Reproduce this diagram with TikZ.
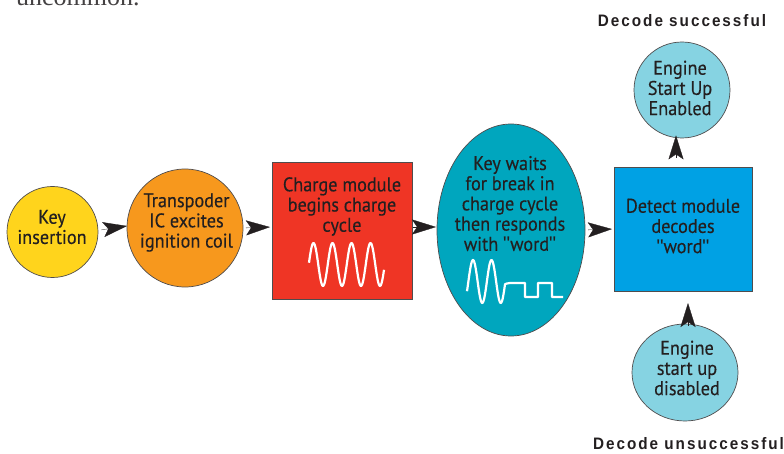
\documentclass[tikz,border=0pt]{standalone}
\usepackage{fontspec}
\setmainfont[FakeStretch=0.92,FakeBold=0.25]{PT Sans}
\newfontfamily\lblfont[LetterSpace=12,FakeStretch=0.92]{Liberation Sans}
\newfontfamily\bodyfont{Liberation Serif}
\newfontfamily\qtfont[Ligatures=NoCommon]{Liberation Sans}
\usetikzlibrary{arrows.meta,shapes.geometric}
\definecolor{ink}{HTML}{231F20}
\definecolor{cyellow}{HTML}{FFD41C}
\definecolor{corange}{HTML}{F7981D}
\definecolor{cred}{HTML}{EF3525}
\definecolor{cteal}{HTML}{00A6BE}
\definecolor{cblue}{HTML}{00A1E4}
\definecolor{clight}{HTML}{86D3E2}
\newcommand{\qt}{{\qtfont\symbol{34}}}
\tikzset{
  shapebox/.style={draw=ink!80,line width=0.7pt,inner sep=0pt,outer sep=0pt},
  round/.style={shapebox,ellipse},
  txt/.style={text=ink,align=center,inner sep=0pt,font=\fontsize{19.8}{20.2}\selectfont},
  flow/.style={draw=ink,line width=0.3pt,-{Stealth[length=24pt,width=15pt,inset=5pt,fill=ink]}},
  wave/.style={draw=white,line width=2.2pt,line join=round},
  outcome/.style={text=ink,inner sep=0pt,font=\lblfont\bfseries\fontsize{16.6}{18}\selectfont}
}
\begin{document}
\begin{tikzpicture}[x=1pt,y=-1pt]
\path[use as bounding box] (0,0) rectangle (784,454);
\begin{scope}
\clip (0,0) rectangle (784,454);
\node[anchor=base west,inner sep=0pt,text=ink!85,font=\bodyfont\fontsize{26}{30}\selectfont] (prev) at (16,5.5) {uncommon.};
\end{scope}
% shapes
\node[round,fill=cyellow,minimum width=91pt,minimum height=91pt] (key) at (52.5,232) {};
\node[round,fill=corange,minimum width=116pt,minimum height=118pt] (trans) at (185,228) {};
\node[shapebox,rectangle,fill=cred,minimum width=140pt,minimum height=137pt] (charge) at (342,230.5) {};
\node[round,fill=cteal,minimum width=148pt,minimum height=212pt] (wait) at (511,230) {};
\node[shapebox,rectangle,fill=cblue,minimum width=138pt,minimum height=124pt] (detect) at (683,229) {};
\node[round,fill=clight,minimum width=96pt,minimum height=96pt] (up) at (682,90) {};
\node[round,fill=clight,minimum width=106pt,minimum height=97pt] (down) at (685,372.5) {};
% connectors
\draw[flow,shorten <=3.5pt] (key.2.5) -- (trans.178);
\draw[flow,shorten <=3pt,shorten >=2pt] (trans.east) -- ([yshift=3.5pt]charge.west);
\draw[flow,shorten <=1pt,shorten >=1pt] ([yshift=3.5pt]charge.east) -- ([yshift=3pt]wait.west);
\draw[flow,shorten <=3pt,shorten >=2pt] (wait.east) -- (detect.west);
\draw[flow,shorten <=9pt,shorten >=-2.6pt] ([xshift=-7pt]detect.north) -- ([xshift=-6pt]up.south);
\draw[flow,shorten <=-2pt,shorten >=12pt] ([xshift=3pt]down.north) -- ([xshift=5pt]detect.south);
% text
\node[txt] (keyT) at (52,227) {Key\\insertion};
\node[txt] (transT) at (186.5,222.5) {Transpoder\\IC excites\\ignition coil};
\node[txt] (chargeT) at (342,206.5) {Charge module\\begins charge\\cycle};
\node[txt] (waitT) at (510,203.5) {Key waits\\for break in\\charge cycle\\then responds\\with \qt word\qt};
\node[txt] (detectT) at (683,226) {Detect module\\decodes\\\qt word\qt};
\node[txt] (upT) at (680,88) {Engine\\Start Up\\Enabled};
\node[txt] (downT) at (687,368) {Engine\\start up\\disabled};
\node[outcome] (okL) at (682,21) {Decode successful};
\node[outcome] (noL) at (688.5,444) {Decode unsuccessful};
% waves
\draw[wave] plot[domain=309:384,samples=120] (\x,{264.5-21.5*cos(18.947*(\x-313.5))});
\draw[wave] plot[domain=467:505,samples=80] (\x,{281.5-21.5*cos(19.459*(\x-473))})
  .. controls (506,284) and (507,283) .. (510,283) -- (525,283) -- (525,297) -- (538,297) -- (538,283) -- (552,283) -- (552,297) -- (563,297);
\end{tikzpicture}
\end{document}
